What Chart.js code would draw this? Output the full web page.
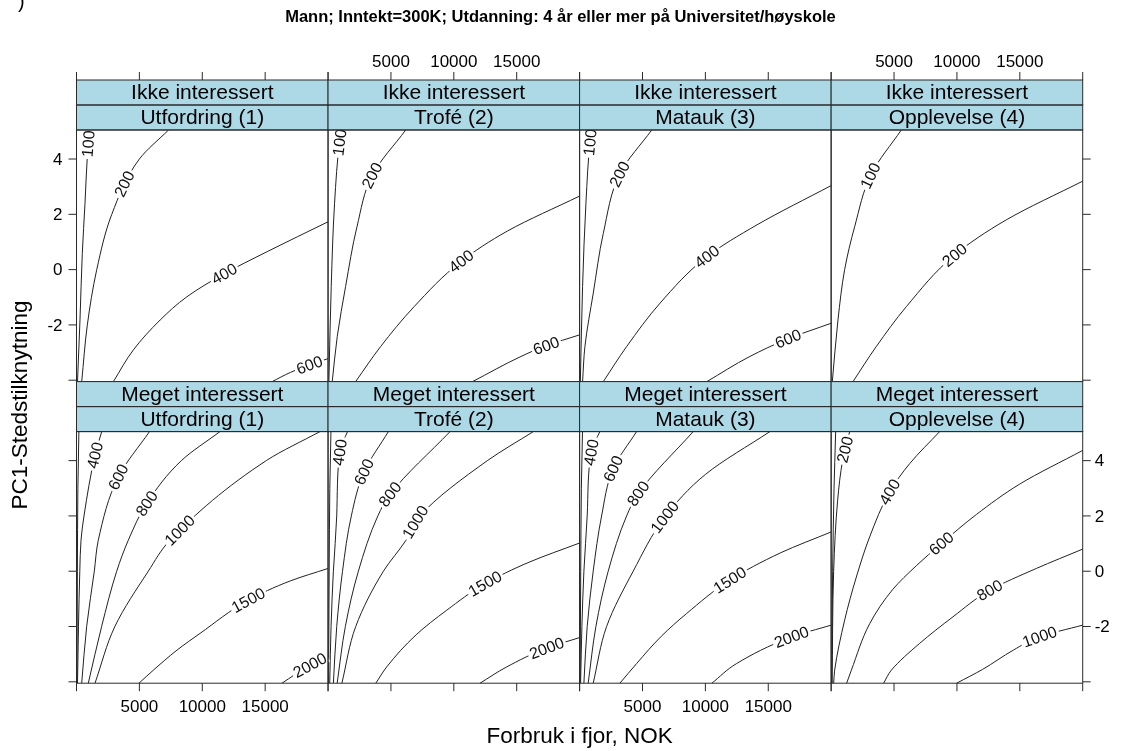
<!DOCTYPE html>
<html>
<head>
<meta charset="utf-8">
<script src="https://cdn.jsdelivr.net/npm/chart.js@4.4.1/dist/chart.umd.min.js"></script>
<style>
html,body{margin:0;padding:0;background:#fff;}
#wrap{position:relative;width:1121px;height:751px;}
canvas{display:block;}
</style>
</head>
<body>
<div id="wrap"><canvas id="c" width="1121" height="751"></canvas></div>
<script>
// ---------------- data ----------------
const titleText = 'Mann; Inntekt=300K; Utdanning: 4 år eller mer på Universitet/høyskole';
const xAxisTitle = 'Forbruk i fjor, NOK';
const yAxisTitle = 'PC1-Stedstilknytning';
const interestLevels = ['Ikke interessert', 'Meget interessert'];
const motives = ['Utfordring (1)', 'Trofé (2)', 'Matauk (3)', 'Opplevelse (4)'];

const xRange = [0, 20000];
const yRange = [-4.05, 5.05];
const xTickValues = [0, 5000, 10000, 15000, 20000];
const xTickLabels = ['', '5000', '10000', '15000', ''];
const yTickValues = [-4, -2, 0, 2, 4];
const yTickLabels = ['', '-2', '0', '2', '4'];

// contour lines per panel: level, x (NOK), y (PC1), label position (y value)
const ikkeUtfordring = [
  {level: 100, x: [80, 278, 461, 676, 859, 1030], y: [-4.05, -1.82, 0.59, 2.4, 4.08, 5.05], labelY: 4.55},
  {level: 200, x: [414, 861, 1610, 2805, 5000, 7317], y: [-4.05, -2, 0, 2, 4, 5.05], labelY: 3.1},
  {level: 400, x: [2933, 4527, 6655, 8783, 11700, 15159, 20000], y: [-4.05, -2.9, -1.82, -0.98, -0.16, 0.65, 1.73], labelY: -0.15},
  {level: 600, x: [15557, 17000, 18700, 20000], y: [-4.05, -3.72, -3.42, -3.22], labelY: -3.45}
];
const ikkeTrofe = [
  {level: 100, x: [66, 253, 518, 943, 1100], y: [-4.05, -0.61, 2.4, 4.69, 5.05], labelY: 4.6},
  {level: 200, x: [332, 731, 1395, 2300, 3520, 6177], y: [-4.05, -2.42, -0.61, 1.55, 3.42, 5.05], labelY: 3.4},
  {level: 400, x: [2192, 4184, 6841, 10560, 14280, 20000], y: [-4.05, -2.78, -1.34, 0.29, 1.4, 2.66], labelY: 0.3},
  {level: 600, x: [11490, 15342, 17347, 20000], y: [-4.05, -3.14, -2.75, -2.36], labelY: -2.75}
];
const ikkeMatauk = [
  {level: 100, x: [60, 237, 503, 875, 968], y: [-4.05, -0.61, 2.4, 4.8, 5.05], labelY: 4.6},
  {level: 200, x: [237, 423, 1087, 1884, 3213, 5737], y: [-4.05, -2.78, -0.85, 1.31, 3.48, 5.05], labelY: 3.45},
  {level: 400, x: [1884, 3744, 6401, 10120, 14105, 20000], y: [-4.05, -2.78, -1.21, 0.47, 1.62, 3.04], labelY: 0.47},
  {level: 600, x: [10120, 13539, 16584, 20000], y: [-4.05, -3.14, -2.5, -1.94], labelY: -2.5}
];
const ikkeOpplevelse = [
  {level: 100, x: [93, 543, 1073, 1868, 3193, 5578], y: [-4.05, -1.82, 0, 1.55, 3.46, 5.05], labelY: 3.4},
  {level: 200, x: [1736, 3591, 5976, 9818, 13926, 20000], y: [-4.05, -2.78, -1.34, 0.53, 1.8, 3.2], labelY: 0.53}
];
const megetUtfordring = [
  {level: 200, x: [40, 70, 110, 190], y: [-4.05, 0, 3, 5.05], labelY: null},
  {level: 400, x: [80, 159, 262, 358, 596, 1471, 2003], y: [-4.05, -1.99, 0, 1.12, 2.0, 4.19, 5.05], labelY: 4.19},
  {level: 600, x: [413, 811, 1415, 1733, 3323, 5803], y: [-4.05, -1.99, 0, 1.12, 3.41, 5.05], labelY: 3.41},
  {level: 800, x: [938, 2003, 3196, 4118, 5580, 8361, 11408], y: [-4.05, -1.99, 0, 1.12, 2.45, 4.01, 5.05], labelY: 2.45},
  {level: 1000, x: [1471, 3061, 5708, 7433, 15121, 19358], y: [-4.05, -1.99, 0, 1.12, 4.01, 5.05], labelY: 1.48},
  {level: 1500, x: [4969, 6106, 8000, 9818, 13658, 17000, 20000], y: [-4.05, -3.58, -2.85, -2.25, -1.05, -0.35, 0.1], labelY: -1.05},
  {level: 2000, x: [16337, 18562, 20000], y: [-4.05, -3.4, -3.1], labelY: -3.4}
];
const megetTrofe = [
  {level: 200, x: [40, 90, 140, 230], y: [-4.05, 0, 3, 5.05], labelY: null},
  {level: 400, x: [135, 239, 424, 690, 954, 1550], y: [-4.05, -2, 0, 2, 4.37, 5.05], labelY: 4.3},
  {level: 600, x: [424, 690, 1150, 1850, 2862, 4797], y: [-4.05, -2, 0, 2, 3.59, 5.05], labelY: 3.59},
  {level: 800, x: [725, 1375, 2410, 3960, 4929, 9699], y: [-4.05, -2, 0, 2, 2.78, 5.05], labelY: 2.78},
  {level: 1000, x: [1100, 2200, 4400, 6200, 7300, 12700, 16322], y: [-4.05, -2, 0, 1.12, 2, 4.01, 5.05], labelY: 1.78},
  {level: 1500, x: [3800, 4665, 7000, 9437, 12482, 16000, 20000], y: [-4.05, -3.46, -2.3, -1.41, -0.45, 0.33, 1.02], labelY: -0.45},
  {level: 2000, x: [12084, 14208, 17387, 20000], y: [-4.05, -3.46, -2.78, -2.4], labelY: -2.78}
];
const megetMatauk = [
  {level: 200, x: [40, 90, 140, 230], y: [-4.05, 0, 3, 5.05], labelY: null},
  {level: 400, x: [80, 183, 342, 604, 954, 1614], y: [-4.05, -2, 0, 2, 4.37, 5.05], labelY: 4.3},
  {level: 600, x: [342, 604, 1081, 1749, 2671, 4532], y: [-4.05, -2, 0, 2, 3.71, 5.05], labelY: 3.71},
  {level: 800, x: [684, 1296, 2274, 3737, 4659, 9031], y: [-4.05, -2, 0, 2, 2.81, 5.05], labelY: 2.81},
  {level: 1000, x: [1081, 2147, 4261, 6781, 10000, 15129], y: [-4.05, -2, 0, 1.96, 3.5, 5.05], labelY: 1.96},
  {level: 1500, x: [3204, 4532, 6500, 8507, 11949, 16000, 20000], y: [-4.05, -3.34, -2.35, -1.53, -0.32, 0.67, 1.42], labelY: -0.32},
  {level: 2000, x: [10518, 12482, 16854, 20000], y: [-4.05, -3.34, -2.38, -1.95], labelY: -2.38}
];
const megetOpplevelse = [
  {level: 100, x: [40, 119, 230, 358], y: [-4.05, 0, 3, 5.05], labelY: null},
  {level: 200, x: [80, 199, 517, 914, 1471], y: [-4.05, 0, 2.57, 4.01, 5.05], labelY: 4.4},
  {level: 400, x: [199, 278, 1073, 2003, 3061, 4651, 6241, 8626], y: [-4.05, -3.58, -1.77, -0.21, 1.24, 2.87, 3.89, 5.05], labelY: 2.87},
  {level: 600, x: [1232, 1606, 3061, 4913, 6774, 8761, 11543, 14986, 20000], y: [-4.05, -3.58, -1.9, -0.65, 0.2, 1.0, 2.05, 3.15, 4.37], labelY: 1.0},
  {level: 800, x: [4174, 4786, 7036, 9683, 12601, 16313, 20000], y: [-4.05, -3.58, -2.61, -1.65, -0.69, 0.1, 0.8], labelY: -0.69},
  {level: 1000, x: [9977, 12044, 14500, 16576, 20000], y: [-4.05, -3.55, -2.85, -2.37, -1.95], labelY: -2.37}
];

const panelContours = [ikkeUtfordring, ikkeTrofe, ikkeMatauk, ikkeOpplevelse,
                       megetUtfordring, megetTrofe, megetMatauk, megetOpplevelse];

// ---------------- layout / style ----------------
const FONT = '"Liberation Sans", Arial, Helvetica, sans-serif';
const G = {left: 76.5, w: 251.55, rowTop: [130, 431.6], h: 251.6, strip: 25, tick: 8};
const STRIP_FILL = '#add8e6';
const FRAME = '#2a2a2a';
const LINE = '#222';

function panelRect(i) {
  const col = i % 4, row = Math.floor(i / 4);
  const left = G.left + col * G.w;
  const top = G.rowTop[row];
  return {col, row, left, right: left + G.w, top, bottom: top + G.h};
}

// ---------------- datasets ----------------
const datasets = [];
const scales = {};
panelContours.forEach((lines, p) => {
  scales['x' + p] = {type: 'linear', axis: 'x', position: 'bottom', min: xRange[0], max: xRange[1], display: false};
  scales['y' + p] = {type: 'linear', axis: 'y', position: 'left', min: yRange[0], max: yRange[1], display: false};
  lines.forEach(c => {
    datasets.push({
      label: motives[p % 4] + ' / ' + interestLevels[Math.floor(p / 4)] + ': ' + c.level,
      data: c.x.map((xv, k) => ({x: xv, y: c.y[k]})),
      xAxisID: 'x' + p, yAxisID: 'y' + p,
      indexAxis: 'y',
      borderColor: LINE, borderWidth: 1, pointRadius: 0, fill: false,
      cubicInterpolationMode: 'monotone', clip: false,
      _level: c.level, _labelY: c.labelY, _panel: p
    });
  });
});

// place every panel's scales on its own lattice cell
const latticeLayout = {
  id: 'latticeLayout',
  afterLayout(chart) {
    panelContours.forEach((_, p) => {
      const r = panelRect(p);
      const xs = chart.scales['x' + p], ys = chart.scales['y' + p];
      xs.left = r.left; xs.right = r.right; xs.width = r.right - r.left;
      xs.top = r.bottom; xs.bottom = r.bottom; xs.height = 0;
      xs.configure();
      ys.top = r.top; ys.bottom = r.bottom; ys.height = r.bottom - r.top;
      ys.left = r.left; ys.right = r.left; ys.width = 0;
      ys.configure();
    });
  }
};

function bez(p0, p1, p2, p3, t) {
  const u = 1 - t;
  return u*u*u*p0 + 3*u*u*t*p1 + 3*u*t*t*p2 + t*t*t*p3;
}
function bezD(p0, p1, p2, p3, t) {
  const u = 1 - t;
  return 3*u*u*(p1 - p0) + 6*u*t*(p2 - p1) + 3*t*t*(p3 - p2);
}

const latticeDecor = {
  id: 'latticeDecor',
  beforeDraw(chart) {
    const ctx = chart.ctx;
    ctx.save(); ctx.fillStyle = '#fff'; ctx.fillRect(0, 0, chart.width, chart.height); ctx.restore();
  },
  afterDatasetsDraw(chart) {
    const ctx = chart.ctx;
    // contour labels, placed on the drawn curve and rotated along it
    ctx.save();
    ctx.font = '16px ' + FONT;
    ctx.textAlign = 'center';
    ctx.textBaseline = 'middle';
    chart.data.datasets.forEach((ds, di) => {
      if (ds._labelY === null || ds._labelY === undefined) return;
      const meta = chart.getDatasetMeta(di);
      const pts = meta.data;
      const ys = chart.scales[ds.yAxisID];
      const ty = ys.getPixelForValue(ds._labelY);
      let px = null, py = null, ang = 0;
      for (let j = 0; j < pts.length - 1; j++) {
        const a = pts[j], b = pts[j + 1];
        const yMax = Math.max(a.y, b.y), yMin = Math.min(a.y, b.y);
        if (ty <= yMax && ty >= yMin) {
          const c1x = a.cp2x !== undefined ? a.cp2x : a.x, c1y = a.cp2y !== undefined ? a.cp2y : a.y;
          const c2x = b.cp1x !== undefined ? b.cp1x : b.x, c2y = b.cp1y !== undefined ? b.cp1y : b.y;
          let lo = 0, hi = 1;
          for (let k = 0; k < 40; k++) {
            const mid = (lo + hi) / 2;
            const yy = bez(a.y, c1y, c2y, b.y, mid);
            if ((yy - ty) * (a.y - b.y) > 0) lo = mid; else hi = mid;
          }
          const t = (lo + hi) / 2;
          px = bez(a.x, c1x, c2x, b.x, t);
          py = bez(a.y, c1y, c2y, b.y, t);
          let dx = bezD(a.x, c1x, c2x, b.x, t), dy = bezD(a.y, c1y, c2y, b.y, t);
          if (dx < 0) { dx = -dx; dy = -dy; }
          ang = Math.atan2(dy, dx);
          break;
        }
      }
      if (px === null) return;
      const txt = String(ds._level);
      const w = ctx.measureText(txt).width;
      ctx.save();
      ctx.translate(px, py);
      ctx.rotate(ang);
      ctx.fillStyle = '#fff';
      ctx.fillRect(-w / 2 - 2, -6, w + 4, 12);
      ctx.fillStyle = '#111';
      ctx.fillText(txt, 0, 1);
      ctx.restore();
    });
    ctx.restore();
  },
  afterDraw(chart) {
    const ctx = chart.ctx;
    ctx.save();
    ctx.lineWidth = 1;
    ctx.strokeStyle = FRAME;
    ctx.fillStyle = '#000';

    panelContours.forEach((_, p) => {
      const r = panelRect(p);
      const xs = chart.scales['x' + p], ys = chart.scales['y' + p];
      // strips
      const s1 = r.top - 2 * G.strip, s2 = r.top - G.strip;
      ctx.fillStyle = STRIP_FILL;
      ctx.fillRect(r.left, s1, G.w, 2 * G.strip);
      ctx.strokeRect(r.left, s1, G.w, G.strip);
      ctx.strokeRect(r.left, s2, G.w, G.strip);
      ctx.fillStyle = '#000';
      ctx.font = '21px ' + FONT;
      ctx.textAlign = 'center';
      ctx.textBaseline = 'middle';
      const cx = (r.left + r.right) / 2;
      ctx.fillText(interestLevels[r.row], cx, s1 + G.strip / 2 + 1);
      ctx.fillText(motives[r.col], cx, s2 + G.strip / 2 + 1);
      // panel frame
      ctx.strokeRect(r.left, r.top, G.w, G.h);

      ctx.font = '17px ' + FONT;
      ctx.beginPath();
      if (r.row === 0) {
        xTickValues.forEach(v => {
          const x = xs.getPixelForValue(v);
          ctx.moveTo(x, s1); ctx.lineTo(x, s1 - G.tick);
        });
      }
      if (r.row === 1) {
        xTickValues.forEach(v => {
          const x = xs.getPixelForValue(v);
          ctx.moveTo(x, r.bottom); ctx.lineTo(x, r.bottom + G.tick);
        });
      }
      if (r.col === 0) {
        yTickValues.forEach(v => {
          const y = ys.getPixelForValue(v);
          ctx.moveTo(r.left, y); ctx.lineTo(r.left - G.tick, y);
        });
      }
      if (r.col === 3) {
        yTickValues.forEach(v => {
          const y = ys.getPixelForValue(v);
          ctx.moveTo(r.right, y); ctx.lineTo(r.right + G.tick, y);
        });
      }
      ctx.stroke();

      // tick labels (alternating lattice style)
      ctx.textAlign = 'center';
      ctx.textBaseline = 'middle';
      if (r.row === 0 && r.col % 2 === 1) {
        xTickValues.forEach((v, k) => { if (xTickLabels[k]) ctx.fillText(xTickLabels[k], xs.getPixelForValue(v), s1 - 18); });
      }
      if (r.row === 1 && r.col % 2 === 0) {
        xTickValues.forEach((v, k) => { if (xTickLabels[k]) ctx.fillText(xTickLabels[k], xs.getPixelForValue(v), r.bottom + 24); });
      }
      if (r.row === 0 && r.col === 0) {
        ctx.textAlign = 'right';
        yTickValues.forEach((v, k) => { if (yTickLabels[k]) ctx.fillText(yTickLabels[k], r.left - 14, ys.getPixelForValue(v) + 1); });
      }
      if (r.row === 1 && r.col === 3) {
        ctx.textAlign = 'left';
        yTickValues.forEach((v, k) => { if (yTickLabels[k]) ctx.fillText(yTickLabels[k], r.right + 12, ys.getPixelForValue(v) + 1); });
      }
    });

    // axis titles
    ctx.fillStyle = '#000';
    ctx.font = '22.5px ' + FONT;
    ctx.textAlign = 'center';
    ctx.textBaseline = 'middle';
    ctx.fillText(xAxisTitle, G.left + 2 * G.w, 737);
    ctx.save();
    ctx.translate(21, 405);
    ctx.rotate(-Math.PI / 2);
    ctx.fillText(yAxisTitle, 0, 0);
    ctx.restore();
    // cropped glyph at the top-left corner of the original figure
    ctx.textAlign = 'left';
    ctx.textBaseline = 'top';
    ctx.font = '20px ' + FONT;
    ctx.fillText(')', 18, -8);
    ctx.restore();
  }
};

new Chart(document.getElementById('c').getContext('2d'), {
  type: 'line',
  data: {datasets},
  options: {
    responsive: false,
    animation: false,
    devicePixelRatio: 1,
    events: [],
    layout: {padding: 0},
    plugins: {
      legend: {display: false},
      tooltip: {enabled: false},
      title: {
        display: true, text: titleText, color: '#000',
        font: {family: FONT, size: 16.5, weight: 'bold'},
        padding: {top: 8, bottom: 4}
      }
    },
    scales
  },
  plugins: [latticeLayout, latticeDecor]
});
</script>
</body>
</html>
